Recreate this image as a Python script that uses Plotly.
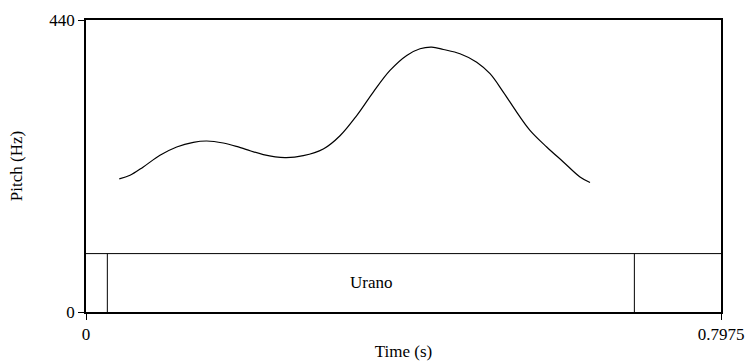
import plotly.graph_objects as go

# Pitch contour (s, Hz)
time_s = [0.0418, 0.0553, 0.0720, 0.0929, 0.1139, 0.1348, 0.1516, 0.1724, 0.1913,
          0.2018, 0.2227, 0.2499, 0.2729, 0.2980, 0.3190, 0.3400, 0.3608, 0.3818,
          0.4028, 0.4195, 0.4342, 0.4488, 0.4697, 0.4907, 0.5074, 0.5241, 0.5409,
          0.5576, 0.5786, 0.5995, 0.6204, 0.6330]
pitch_hz = [200.5, 206.0, 218.6, 236.2, 248.7, 255.7, 257.7, 254.7, 248.7,
            244.7, 237.2, 232.7, 235.5, 245.5, 265.5, 296.0, 331.4, 364.0,
            386.6, 396.7, 399.1, 395.6, 389.2, 376.5, 359.1, 331.4, 301.3,
            273.8, 248.7, 226.1, 203.5, 195.1]

# Axis extents
t_start, t_end = 0.0, 0.7975
f_min, f_max = 0, 440

# TextGrid tier: interval boundaries and the labelled interval
tier_bounds = [0.0268, 0.6887]
tier_label = "Urano"
tier_height = 0.2  # fraction of the plot height

font_family = "Liberation Serif"
fsize = 17

fig = go.Figure()
fig.add_trace(go.Scatter(
    x=time_s, y=pitch_hz, mode="lines",
    line=dict(color="black", width=1.2, shape="spline", smoothing=1.0),
    showlegend=False, hoverinfo="skip",
))

shapes = [
    dict(type="line", xref="x domain", yref="y domain", x0=0, x1=1,
         y0=tier_height, y1=tier_height, line=dict(color="black", width=1)),
]
for b in tier_bounds:
    shapes.append(dict(type="line", xref="x", yref="y domain", x0=b, x1=b,
                       y0=0, y1=tier_height, line=dict(color="black", width=1)))

fig.update_layout(
    width=747, height=362,
    margin=dict(l=86, r=26, t=20, b=50, autoexpand=False),
    paper_bgcolor="white", plot_bgcolor="white",
    font=dict(family=font_family, size=fsize, color="black"),
    shapes=shapes,
    annotations=[dict(
        x=(tier_bounds[0] + tier_bounds[1]) / 2, xref="x",
        y=f_min + (f_max - f_min) * tier_height / 2, yref="y",
        yanchor="middle", xanchor="center",
        text=tier_label, showarrow=False,
        font=dict(family=font_family, size=fsize, color="black"),
    )],
)
fig.update_xaxes(
    range=[t_start, t_end], tickvals=[t_start, t_end], ticktext=["0", "0.7975"],
    showgrid=False, zeroline=False, showline=True, mirror=True,
    linecolor="black", linewidth=1.5, ticks="outside", ticklen=6,
    tickcolor="black", tickwidth=1.2, automargin=False,
    tickfont=dict(family=font_family, size=fsize),
    title=dict(text="Time (s)", standoff=2, font=dict(family=font_family, size=fsize)),
)
fig.update_yaxes(
    range=[f_min, f_max], tickvals=[f_min, f_max], ticktext=["0", "440"],
    showgrid=False, zeroline=False, showline=True, mirror=True,
    linecolor="black", linewidth=1.5, ticks="outside", ticklen=6,
    tickcolor="black", tickwidth=1.2, automargin=False,
    tickfont=dict(family=font_family, size=fsize),
    title=dict(text="Pitch (Hz)", standoff=22, font=dict(family=font_family, size=fsize)),
)

fig.write_html("out.html")
